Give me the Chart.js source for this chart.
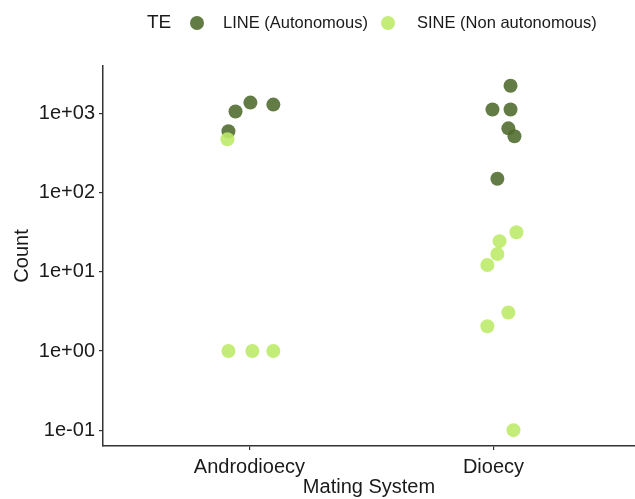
<!DOCTYPE html>
<html>
<head>
<meta charset="utf-8">
<script src="https://cdn.jsdelivr.net/npm/chart.js@4/dist/chart.umd.min.js"></script>
<style>
  html, body { margin: 0; padding: 0; background: #fff; }
  #wrap { width: 635px; height: 499px; }
</style>
</head>
<body>
<div id="wrap"><canvas id="teChart"></canvas></div>
<script>
// categories on the x axis
var categories = ['Androdioecy', 'Dioecy'];
var tickValues = [0.1, 1, 10, 100, 1000];
var tickLabels = ['1e-01', '1e+00', '1e+01', '1e+02', '1e+03'];

// LINE (Autonomous) - jittered x, counts
var lineX = [0.914, 0.943, 1.004, 1.098, 2.070, 1.996, 2.070, 2.061, 2.086, 2.016];
var lineY = [596, 1060, 1373, 1296, 2239, 1122, 1122, 649, 516, 150];

// SINE (Non autonomous)
var sineX = [0.910, 0.914, 1.012, 1.098, 2.094, 2.025, 2.016, 1.975, 2.061, 1.975, 2.082];
var sineY = [473, 1, 1, 1, 31.6, 24.4, 16.8, 12.2, 3.07, 2.05, 0.1];

var seriesNames = ['LINE (Autonomous)', 'SINE (Non autonomous)'];
var seriesColors = ['rgba(82,109,48,0.9)', 'rgba(190,234,105,0.9)'];

function toPoints(xs, ys) {
    var pts = [];
    for (var i = 0; i < xs.length; i++) {
        pts.push({ x: xs[i], y: ys[i] });
    }
    return pts;
}

var axisColor = '#333333';
var textColor = '#1a1a1a';
var fontFam = '"Liberation Sans", Arial, sans-serif';

// legend drawn by hand so "TE" sits on the same row as the items
var topLegend = {
    id: 'topLegend',
    afterDraw: function (chart) {
        var ctx = chart.ctx;
        ctx.save();
        ctx.textBaseline = 'middle';
        ctx.fillStyle = textColor;
        ctx.font = '19px ' + fontFam;
        ctx.fillText('TE', 147, 23);
        var dots = [197, 388];
        var labelsX = [223, 417];
        ctx.font = '16.5px ' + fontFam;
        for (var i = 0; i < chart.data.datasets.length; i++) {
            var ds = chart.data.datasets[i];
            ctx.beginPath();
            ctx.arc(dots[i], 23, 7, 0, Math.PI * 2);
            ctx.fillStyle = ds.backgroundColor;
            ctx.fill();
            ctx.fillStyle = textColor;
            ctx.fillText(ds.label, labelsX[i], 23);
        }
        ctx.restore();
    }
};

const ctx = document.getElementById('teChart').getContext('2d');
const teChart = new Chart(ctx, {
    type: 'scatter',
    data: {
        datasets: [{
            label: seriesNames[0],
            data: toPoints(lineX, lineY),
            backgroundColor: seriesColors[0],
            borderWidth: 0,
            pointRadius: 7,
            order: 2
        }, {
            label: seriesNames[1],
            data: toPoints(sineX, sineY),
            backgroundColor: seriesColors[1],
            borderWidth: 0,
            pointRadius: 7,
            order: 1
        }]
    },
    options: {
        responsive: true,
        maintainAspectRatio: false,
        animation: false,
        layout: { autoPadding: false, padding: { top: 66, right: 0, bottom: 0, left: 0 } },
        plugins: {
            legend: { display: false },
            tooltip: { enabled: false }
        },
        scales: {
            x: {
                type: 'linear',
                min: 0.4,
                max: 2.58,
                afterBuildTicks: function (scale) {
                    scale.ticks = categories.map(function (c, i) { return { value: i + 1 }; });
                },
                afterFit: function (scale) { scale.height = 53; },
                ticks: {
                    color: textColor,
                    font: { size: 20, family: fontFam },
                    padding: 5,
                    maxRotation: 0,
                    callback: function (v) { return categories[v - 1]; }
                },
                grid: { drawOnChartArea: false, drawTicks: true, tickLength: 4, color: axisColor, lineWidth: 1.2 },
                border: { display: true, color: axisColor, width: 1.5 },
                title: {
                    display: true,
                    text: 'Mating System',
                    color: textColor,
                    font: { size: 20, family: fontFam },
                    padding: { top: 0, bottom: 0 }
                }
            },
            y: {
                type: 'logarithmic',
                min: Math.pow(10, -1.2),
                max: Math.pow(10, 3.6),
                afterBuildTicks: function (scale) {
                    scale.ticks = tickValues.map(function (v) { return { value: v }; });
                },
                afterFit: function (scale) { scale.width = 103; },
                ticks: {
                    color: textColor,
                    font: { size: 20, family: fontFam },
                    padding: 4,
                    callback: function (v) {
                        var i = tickValues.indexOf(v);
                        return i >= 0 ? tickLabels[i] : '';
                    }
                },
                grid: { drawOnChartArea: false, drawTicks: true, tickLength: 4, color: axisColor, lineWidth: 1.2 },
                border: { display: true, color: axisColor, width: 1.5 },
                title: {
                    display: true,
                    text: 'Count',
                    color: textColor,
                    font: { size: 20, family: fontFam },
                    padding: { top: 10, bottom: 0 }
                }
            }
        }
    },
    plugins: [topLegend]
});
</script>
</body>
</html>
